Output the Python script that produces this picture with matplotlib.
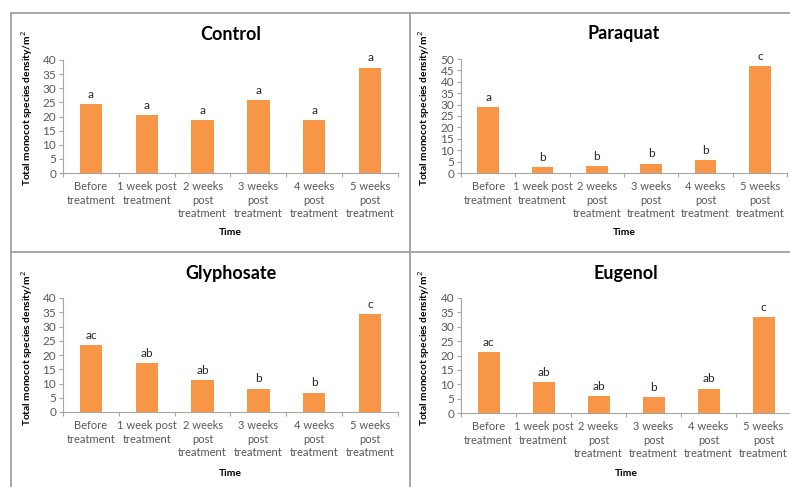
import matplotlib
matplotlib.use("Agg")
import matplotlib.pyplot as plt
from matplotlib.lines import Line2D

plt.rcParams['font.family'] = ['Lato', 'DejaVu Sans']

categories = ["Before\ntreatment", "1 week post\ntreatment", "2 weeks\npost\ntreatment",
              "3 weeks\npost\ntreatment", "4 weeks\npost\ntreatment", "5 weeks\npost\ntreatment"]

control = [24.5, 20.4, 18.8, 25.9, 18.8, 37.3]
paraquat = [28.8, 2.5, 3.1, 4.1, 5.8, 46.8]
glyphosate = [23.5, 17.1, 11.2, 8.2, 6.8, 34.4]
eugenol = [21.3, 10.8, 5.9, 5.4, 8.5, 33.4]

control_letters = ["a", "a", "a", "a", "a", "a"]
paraquat_letters = ["a", "b", "b", "b", "b", "c"]
glyphosate_letters = ["ac", "ab", "ab", "b", "b", "c"]
eugenol_letters = ["ac", "ab", "ab", "b", "ab", "c"]

titles = ["Control", "Paraquat", "Glyphosate", "Eugenol"]
ymaxes = [40, 50, 40, 40]

W, H = 790, 487
fig = plt.figure(figsize=(W / 100, H / 100), dpi=100)

BAR = "#F79646"
GRAY = "#595959"
AXC = "#A6A6A6"

# (left, right, y0_px, ytop_px, title_y, ylabel_x, ylabel_y, time_y)
panels = [
    (control, control_letters, 63, 398, 173, 60, 34, 27, 108, 233),
    (paraquat, paraquat_letters, 461, 787, 173, 59, 34, 424, 108, 233),
    (glyphosate, glyphosate_letters, 63, 398, 412, 298, 273, 27, 348, 473),
    (eugenol, eugenol_letters, 461, 791, 413, 298, 274, 424, 348, 473),
]

for i, (vals, letters, l, r, yb, yt, ty, ylx, yly, timey) in enumerate(panels):
    ax = fig.add_axes([l / W, 1 - yb / H, (r - l) / W, (yb - yt) / H])
    x = list(range(len(categories)))
    ax.bar(x, vals, width=0.4, color=BAR, zorder=3)
    ax.set_xlim(-0.5, len(categories) - 0.5)
    ax.set_ylim(0, ymaxes[i])
    ax.set_yticks(range(0, ymaxes[i] + 1, 5))
    ax.set_xticks([k - 0.5 for k in range(len(categories) + 1)], minor=False)
    ax.set_xticklabels([])
    ax.set_xticks(x, minor=True)
    ax.set_xticklabels(categories, minor=True, fontsize=8, color=GRAY, linespacing=1.25)
    ax.tick_params(axis='x', which='minor', length=0, pad=6)
    ax.tick_params(axis='x', which='major', length=3, color=AXC, direction='out')
    ax.tick_params(axis='y', length=3, color=AXC, labelsize=8.5, labelcolor=GRAY, pad=2)
    for s in ["top", "right"]:
        ax.spines[s].set_visible(False)
    for s in ["left", "bottom"]:
        ax.spines[s].set_color(AXC)
        ax.spines[s].set_linewidth(0.8)
    ax.set_facecolor("none")
    for k, (v, t) in enumerate(zip(vals, letters)):
        ax.annotate(t, (k, v), xytext=(0, 3), textcoords="offset points",
                    ha="center", va="bottom", fontsize=8.5, color="#262626")
    fig.text((l + r) / 2 / W, 1 - ty / H, titles[i], ha="center", va="center",
             fontsize=13, fontweight="bold", color="black")
    fig.text(ylx / W, 1 - yly / H, "Total monocot species density/m$^2$", rotation=90,
             ha="center", va="center", fontsize=7.3, fontweight="bold", color="black")
    fig.text((l + r) / 2 / W, 1 - timey / H, "Time", ha="center", va="center",
             fontsize=7.5, fontweight="bold", color="black")

BORDER = "#A0A0A0"
def hline(y, x0, x1):
    fig.add_artist(Line2D([x0 / W, x1 / W], [1 - y / H, 1 - y / H], color=BORDER, lw=1.3))
def vline(x, y0, y1):
    fig.add_artist(Line2D([x / W, x / W], [1 - y0 / H, 1 - y1 / H], color=BORDER, lw=1.3))

hline(13, 11, 790)
hline(252, 11, 790)
vline(11, 13, 487)
vline(410, 13, 487)

fig.savefig("out.png", dpi=100)
